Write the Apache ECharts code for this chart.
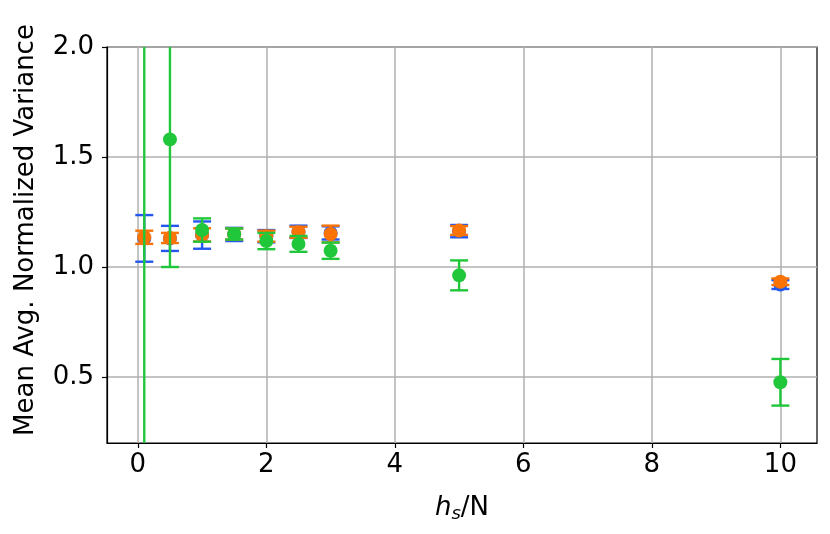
<!DOCTYPE html>
<html>
<head>
<meta charset="utf-8">
<script src="https://cdn.jsdelivr.net/npm/echarts@6/dist/echarts.min.js"></script>
<style>
  html, body { margin: 0; padding: 0; background: #fff; }
  #chart { width: 830px; height: 534px; }
</style>
</head>
<body>
<div id="chart"></div>
<script>
// x positions (h_s / N)
const xs = [0.1, 0.5, 1, 1.5, 2, 2.5, 3, 5, 10]

// means and error half-widths
const blueMean = [1.13, 1.13, 1.145, 1.148, 1.14, 1.16, 1.155, 1.163, 0.92]
const blueErr = [0.106, 0.057, 0.062, 0.03, 0.028, 0.028, 0.03, 0.028, 0.02]
const orangeMean = [1.135, 1.132, 1.146, 1.15, 1.14, 1.158, 1.15, 1.166, 0.933]
const orangeErr = [0.03, 0.023, 0.03, 0.025, 0.025, 0.025, 0.038, 0.02, 0.015]
// first green point sits off the top of the axes
const greenMean = [2.6, 1.58, 1.168, 1.15, 1.118, 1.105, 1.074, 0.962, 0.476]
const greenErr = [3.0, 0.58, 0.053, 0.025, 0.037, 0.036, 0.037, 0.068, 0.106]

const xTicks = [0, 2, 4, 6, 8, 10]
const yTicks = [0.5, 1.0, 1.5, 2.0]

const colors = { blue: '#2258f0', orange: '#f97306', green: '#21c73a' }

const chart = echarts.init(document.getElementById('chart'))

function errBars(mean, err) {
    return xs.map((x, i) => [x, mean[i] - err[i], mean[i] + err[i]])
}
function points(mean) {
    return xs.map((x, i) => [x, mean[i]])
}

function barRenderer(color) {
    return function (params, api) {
        const x = api.value(0)
        const lo = api.coord([x, api.value(1)])
        const hi = api.coord([x, api.value(2)])
        const cap = 9
        const style = { stroke: color, lineWidth: 2.4 }
        return {
            type: 'group',
            children: [
                { type: 'line', shape: { x1: lo[0], y1: lo[1], x2: hi[0], y2: hi[1] }, style },
                { type: 'line', shape: { x1: lo[0] - cap, y1: lo[1], x2: lo[0] + cap, y2: lo[1] }, style },
                { type: 'line', shape: { x1: hi[0] - cap, y1: hi[1], x2: hi[0] + cap, y2: hi[1] }, style }
            ]
        }
    }
}

function makeSeries(name, mean, err, color, z) {
    return [
        {
            name: name + ' err',
            type: 'custom',
            clip: true,
            z: z,
            renderItem: barRenderer(color),
            data: errBars(mean, err)
        },
        {
            name: name,
            type: 'scatter',
            clip: true,
            z: z + 1,
            symbolSize: 14,
            itemStyle: { color: color, opacity: 1 },
            data: points(mean)
        }
    ]
}

const gridColor = '#b0b0b0'
const option = {
    animation: false,
    backgroundColor: '#fff',
    textStyle: { fontFamily: 'DejaVu Sans' },
    grid: {
        left: 107, right: 13, top: 47, bottom: 91,
        show: true, borderColor: '#000', borderWidth: 1.2
    },
    xAxis: {
        type: 'value',
        min: -0.48,
        max: 10.57,
        name: '{i|h}{s|s}{n|/N}',
        nameLocation: 'middle',
        nameGap: 50,
        nameTextStyle: {
            rich: {
                i: { fontSize: 26, fontStyle: 'italic', color: '#000', fontFamily: 'DejaVu Sans' },
                s: { fontSize: 18, fontStyle: 'italic', color: '#000', verticalAlign: 'bottom', padding: [12, 0, 0, 0], fontFamily: 'DejaVu Sans' },
                n: { fontSize: 26, color: '#000', fontFamily: 'DejaVu Sans' }
            }
        },
        axisLine: { show: true, onZero: false, lineStyle: { color: '#000', width: 1.2 } },
        axisTick: { show: true, length: 5, customValues: xTicks, lineStyle: { color: '#000', width: 1.2 } },
        axisLabel: { customValues: xTicks, fontSize: 26, color: '#000', margin: 9 },
        splitLine: { show: true, lineStyle: { color: gridColor, width: 1.5 } }
    },
    yAxis: {
        type: 'value',
        min: 0.2,
        max: 2.0,
        name: 'Mean Avg. Normalized Variance',
        nameLocation: 'middle',
        nameGap: 68,
        nameTextStyle: { fontSize: 26, color: '#000', padding: [0, 0, 0, 30] },
        axisLine: { show: true, onZero: false, lineStyle: { color: '#000', width: 1.2 } },
        axisTick: { show: true, length: 5, customValues: yTicks, lineStyle: { color: '#000', width: 1.2 } },
        axisLabel: {
            customValues: yTicks, fontSize: 26, color: '#000', margin: 13,
            formatter: v => v.toFixed(1)
        },
        splitLine: { show: true, lineStyle: { color: gridColor, width: 1.5 } }
    },
    series: [
        ...makeSeries('blue', blueMean, blueErr, colors.blue, 2),
        ...makeSeries('orange', orangeMean, orangeErr, colors.orange, 4),
        ...makeSeries('green', greenMean, greenErr, colors.green, 6)
    ]
}

chart.setOption(option)
</script>
</body>
</html>
